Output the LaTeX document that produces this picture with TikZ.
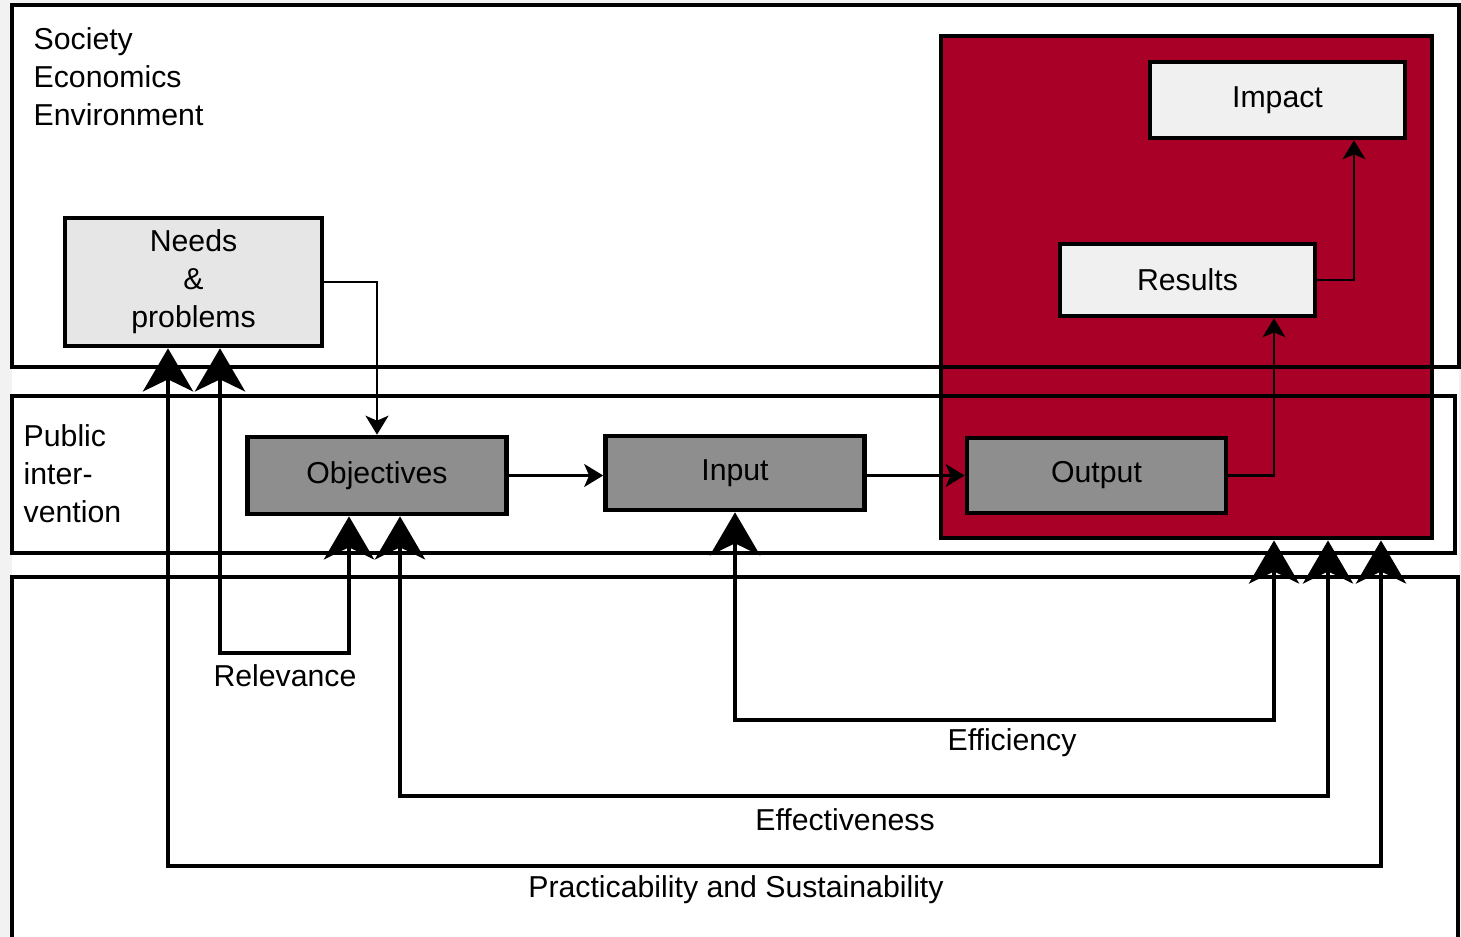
\documentclass[tikz,border=0pt]{standalone}
\usepackage{fontspec}
\setmainfont{Liberation Sans}
\usetikzlibrary{arrows.meta}
\definecolor{evalred}{RGB}{168,0,38}
\definecolor{stagegray}{RGB}{142,142,142}
\definecolor{outcomegray}{RGB}{240,240,240}
\definecolor{needsgray}{RGB}{230,230,230}
\definecolor{margingray}{RGB}{242,242,242}
\begin{document}
\begin{tikzpicture}[x=0.01cm,y=-0.01cm,
  every node/.style={font=\fontsize{8.6}{10.8}\selectfont},
  frame/.style={draw,line width=1.15pt},
  box/.style={draw,line width=1.3pt,inner sep=0pt},
  stage/.style={box,fill=stagegray,minimum width=2.59cm,minimum height=0.77cm},
  outcome/.style={box,fill=outcomegray,minimum width=2.55cm,minimum height=0.74cm},
  thinarrow/.style={line width=0.6pt,-{Stealth[length=0.19cm,width=0.23cm,inset=0.05cm]}},
  bigarrow/.style={line width=1.4pt,{Stealth[length=0.43cm,width=0.5cm,inset=0.12cm]}-{Stealth[length=0.43cm,width=0.5cm,inset=0.12cm]}}]
\useasboundingbox (0,0) rectangle (1461,937);
\fill[margingray] (0,0) rectangle (1461,937);
\fill[white] (12,5) rectangle (1459,937);
\node[box,fill=evalred,minimum width=4.91cm,minimum height=5.02cm] (core) at (1186.5,287) {};
\draw[frame] (12,5) rectangle (1459,367);
\draw[frame] (12,396) rectangle (1455,553);
\draw[frame] (12,945) -- (12,577) -- (1458,577) -- (1458,945);
\node[anchor=north west,align=left,inner sep=0pt] (sphere) at (33,27) {Society\\Economics\\Environment};
\node[anchor=north west,align=left,inner sep=0pt] (public) at (23,424) {Public\\inter-\\vention};
\node[box,fill=needsgray,minimum width=2.57cm,minimum height=1.28cm,align=center] (needs) at (193.5,282) {Needs\\\&\\problems};
\node[stage] (objectives) at (377,475.5) {Objectives};
\node[stage,minimum height=0.74cm] (input) at (735,473) {Input};
\node[stage,minimum height=0.75cm] (output) at (1096.5,475.5) {Output};
\node[outcome,minimum height=0.72cm] (results) at (1187.5,280) {Results};
\node[outcome,minimum height=0.76cm] (impact) at (1277.5,100) {Impact};
\draw[thinarrow] (needs.east) -| (objectives.north);
\draw[thinarrow] (objectives.east) -- (objectives.east -| input.west);
\draw[thinarrow] (output.west -| input.east) -- (output.west);
\draw[thinarrow] (output.east) -| (results.south -| 1274,0);
\draw[thinarrow] (results.east) -| (impact.south -| 1354,0);
\draw[bigarrow] (needs.south -| 220,0) -- (220,653) -| (objectives.south -| 349,0);
\draw[bigarrow] (input.south) -- (735,720) -| (core.south -| 1274,0);
\draw[bigarrow] (objectives.south -| 400,0) -- (400,796) -| (core.south -| 1328,0);
\draw[bigarrow] (needs.south -| 168,0) -- (168,866) -| (core.south -| 1381,0);
\node (relevance) at (285,676) {Relevance};
\node (efficiency) at (1012,743) {Efficiency};
\node (effectiveness) at (845,820) {Effectiveness};
\node (practicability) at (736,890) {Practicability and Sustainability};
\end{tikzpicture}
\end{document}
